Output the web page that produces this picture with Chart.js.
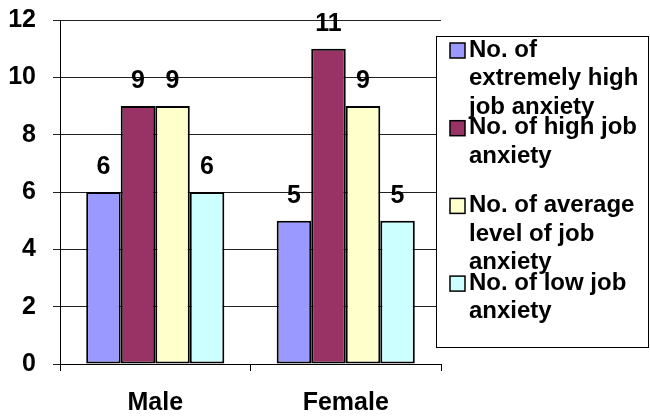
<!DOCTYPE html>
<html>
<head>
<meta charset="utf-8">
<script src="https://cdn.jsdelivr.net/npm/chart.js@4/dist/chart.umd.min.js"></script>
<style>
  html, body { margin: 0; padding: 0; background: #fff; }
  #wrap { width: 650px; height: 416px; }
</style>
</head>
<body>
<div id="wrap"><canvas id="anxietyChart" width="650" height="416"></canvas></div>
<script>
// categories and series
var groups = ['Male', 'Female'];
var seriesNames = [
  'No. of extremely high job anxiety',
  'No. of high job anxiety',
  'No. of average level of job anxiety',
  'No. of low job anxiety'
];
var extremelyHigh = [6, 5];
var high = [9, 11];
var average = [9, 9];
var low = [6, 5];
var yTicks = [0, 2, 4, 6, 8, 10, 12];

var fills = ['#9999FF', '#993366', '#FFFFCC', '#CCFFFF'];
var FONT = '"Liberation Sans", Arial, sans-serif';

// number above each bar
var barLabels = {
  id: 'barLabels',
  afterDatasetsDraw: function (chart) {
    var ctx = chart.ctx;
    ctx.save();
    ctx.font = 'bold 25px ' + FONT;
    ctx.fillStyle = '#000';
    ctx.textAlign = 'center';
    ctx.textBaseline = 'middle';
    chart.data.datasets.forEach(function (ds, i) {
      chart.getDatasetMeta(i).data.forEach(function (bar, j) {
        ctx.fillText(ds.data[j], bar.x, bar.y - 25);
      });
    });
    ctx.restore();
  }
};

// excel style boxed legend on the right, labels wrapped
var boxLegend = {
  id: 'boxLegend',
  afterDraw: function (chart) {
    var ctx = chart.ctx;
    ctx.save();
    ctx.fillStyle = '#fff';
    ctx.fillRect(436, 36, 213, 312);
    ctx.strokeStyle = '#000';
    ctx.lineWidth = 1;
    ctx.strokeRect(436.5, 36.5, 212, 311);
    ctx.font = 'bold 24px ' + FONT;
    ctx.textBaseline = 'middle';
    ctx.textAlign = 'left';
    chart.data.datasets.forEach(function (ds, i) {
      var y = 50 + i * 77.7;
      // wrap
      var words = ds.label.split(' ');
      var lines = [], cur = '';
      words.forEach(function (w) {
        var t = cur ? cur + ' ' + w : w;
        if (ctx.measureText(t).width > 178 && cur) { lines.push(cur); cur = w; }
        else cur = t;
      });
      lines.push(cur);
      ctx.fillStyle = ds.backgroundColor;
      ctx.fillRect(450, y - 7, 15, 15);
      ctx.strokeStyle = '#000';
      ctx.lineWidth = 1.5;
      ctx.strokeRect(450, y - 7, 15, 15);
      ctx.fillStyle = '#000';
      lines.forEach(function (ln, k) {
        ctx.fillText(ln, 469, y + k * 28.6);
      });
    });
    ctx.restore();
  }
};

var seriesData = [extremelyHigh, high, average, low];

new Chart(document.getElementById('anxietyChart'), {
  type: 'bar',
  data: {
    labels: groups,
    datasets: seriesNames.map(function (name, i) {
      return {
        label: name,
        data: seriesData[i],
        backgroundColor: fills[i],
        borderColor: '#000',
        borderWidth: 2,
        borderSkipped: false,
        barPercentage: 1,
        categoryPercentage: 0.725
      };
    })
  },
  options: {
    responsive: false,
    animation: false,
    layout: { padding: { top: 20, right: 209, left: 0, bottom: 0 } },
    plugins: { legend: { display: false }, tooltip: { enabled: false } },
    scales: {
      x: {
        grid: { drawOnChartArea: false, drawTicks: true, tickLength: 7, color: '#000', offset: true },
        border: { color: '#000', width: 1 },
        ticks: { color: '#000', font: { family: FONT, size: 25, weight: 'bold' }, padding: 17 },
        afterFit: function (s) { s.height = 52; s.paddingLeft = 0; s.paddingRight = 0; }
      },
      y: {
        min: 0,
        max: 12,
        afterBuildTicks: function (s) { s.ticks = yTicks.map(function (v) { return { value: v }; }); },
        grid: { color: '#222', tickLength: 7 },
        border: { color: '#000', width: 1 },
        ticks: { color: '#000', font: { family: FONT, size: 25, weight: 'bold' }, padding: 17 },
        afterFit: function (s) { s.width = 60; s.paddingTop = 0; s.paddingBottom = 0; }
      }
    }
  },
  plugins: [barLabels, boxLegend]
});
</script>
</body>
</html>
